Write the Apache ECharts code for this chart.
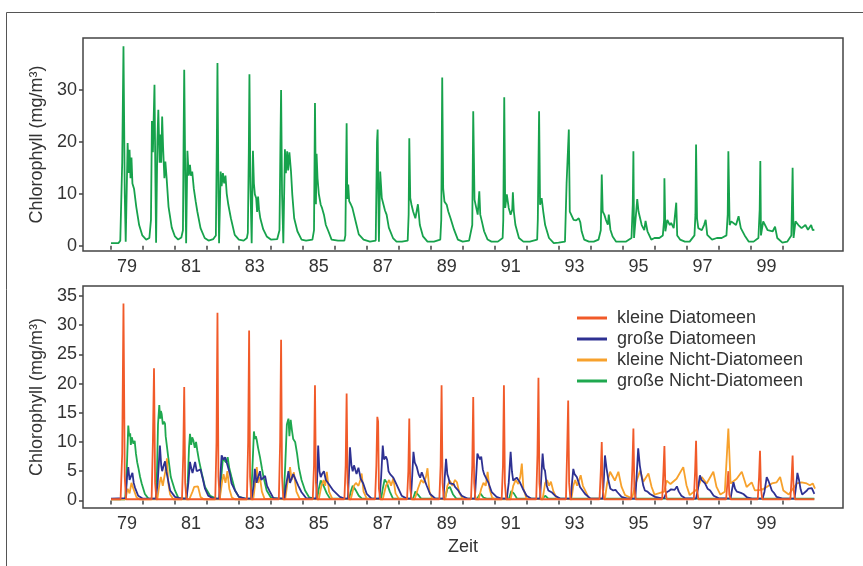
<!DOCTYPE html>
<html>
<head>
<meta charset="utf-8">
<script src="https://cdn.jsdelivr.net/npm/echarts@6/dist/echarts.min.js"></script>
<style>
  html, body { margin: 0; padding: 0; background: #fff; }
  #chart { width: 863px; height: 566px; }
</style>
</head>
<body>
<div id="chart"></div>
<script>
// year ticks (start of year) and year labels (middle of year, every 2nd)
const yearTicks = [1979, 1980, 1981, 1982, 1983, 1984, 1985, 1986, 1987, 1988, 1989, 1990,
                   1991, 1992, 1993, 1994, 1995, 1996, 1997, 1998, 1999, 2000]
const yearLabels = [1979.5, 1981.5, 1983.5, 1985.5, 1987.5, 1989.5, 1991.5, 1993.5, 1995.5, 1997.5, 1999.5]
const topTicks = [0, 10, 20, 30]
const bottomTicks = [0, 5, 10, 15, 20, 25, 30, 35]

const seriesNames = ['kleine Diatomeen', 'große Diatomeen', 'kleine Nicht-Diatomeen', 'große Nicht-Diatomeen']

// total chlorophyll, top panel [year, mg/m3]
const totalChl = [
  [1979.0, 0.5], [1979.23, 0.5], [1979.29, 1.0], [1979.35, 16], [1979.39, 38.4], [1979.43, 10], [1979.46, 0.8],
  [1979.52, 19.8], [1979.55, 14], [1979.58, 18.5], [1979.61, 13], [1979.64, 17], [1979.67, 12], [1979.72, 11],
  [1979.79, 7.5], [1979.88, 4], [1979.98, 2], [1980.1, 1.2], [1980.2, 1.5],
  [1980.25, 5], [1980.28, 24], [1980.31, 18], [1980.36, 31], [1980.39, 12], [1980.41, 0.6], [1980.45, 20],
  [1980.48, 26.2], [1980.52, 16], [1980.55, 21.4], [1980.57, 16], [1980.6, 24.9], [1980.63, 18.8], [1980.67, 13],
  [1980.7, 16.2], [1980.74, 13], [1980.8, 7.5], [1980.9, 3.5], [1981.0, 1.8], [1981.1, 1.2], [1981.2, 1.6],
  [1981.25, 3], [1981.27, 20], [1981.29, 33.9], [1981.32, 15], [1981.35, 0.5], [1981.39, 18.3], [1981.43, 13.5],
  [1981.47, 15.6], [1981.5, 13.5], [1981.54, 14.3], [1981.59, 11], [1981.65, 8.5], [1981.7, 6.6], [1981.8, 3.4],
  [1981.93, 1.5], [1982.05, 1.0], [1982.2, 1.3],
  [1982.28, 2], [1982.31, 20], [1982.33, 35.2], [1982.36, 10], [1982.38, 0.5], [1982.43, 14.3], [1982.46, 11.5],
  [1982.5, 14], [1982.54, 12], [1982.58, 13.5], [1982.62, 10], [1982.67, 7.9], [1982.75, 5.3], [1982.87, 2.1],
  [1983.0, 1.2], [1983.15, 1.0], [1983.25, 1.5],
  [1983.28, 2.5], [1983.31, 18], [1983.33, 33], [1983.36, 12], [1983.4, 0.5], [1983.44, 18.3], [1983.47, 12],
  [1983.5, 9.9], [1983.54, 9.2], [1983.57, 6.5], [1983.6, 9.5], [1983.63, 7], [1983.67, 5.3], [1983.76, 3.2],
  [1983.87, 1.8], [1984.0, 1.2], [1984.2, 1.3],
  [1984.27, 3], [1984.3, 20], [1984.32, 30], [1984.35, 10], [1984.39, 0.5], [1984.44, 18.6], [1984.47, 14],
  [1984.51, 18.2], [1984.54, 14.5], [1984.58, 18], [1984.61, 17.7], [1984.63, 14.3], [1984.67, 9.9], [1984.73, 5.3],
  [1984.83, 2.8], [1984.96, 1.2], [1985.1, 1.0], [1985.3, 1.2],
  [1985.35, 3], [1985.38, 27.5], [1985.41, 8], [1985.43, 17.7], [1985.46, 13], [1985.5, 10], [1985.56, 7.9],
  [1985.6, 7.3], [1985.66, 6], [1985.72, 4], [1985.8, 2.8], [1985.9, 1.2], [1986.1, 1.0], [1986.3, 1.0],
  [1986.33, 2], [1986.37, 23.6], [1986.39, 9], [1986.42, 11.8], [1986.45, 8.6], [1986.5, 8], [1986.55, 7.3],
  [1986.6, 7.6], [1986.66, 4.5], [1986.75, 2.2], [1986.9, 1.2], [1987.1, 0.8], [1987.28, 1],
  [1987.32, 20], [1987.34, 22.4], [1987.36, 10], [1987.38, 0.8], [1987.42, 14.3], [1987.47, 9.2], [1987.52, 9.2],
  [1987.57, 6.8], [1987.62, 6.0], [1987.69, 3.5], [1987.82, 1.5], [1987.93, 0.8], [1988.1, 0.8], [1988.28, 1],
  [1988.31, 6], [1988.33, 20.7], [1988.36, 9.2], [1988.4, 7.9], [1988.45, 6.6], [1988.52, 5.3], [1988.57, 5],
  [1988.6, 8], [1988.66, 4], [1988.76, 1.8], [1988.9, 0.8], [1989.1, 0.8], [1989.3, 1.2],
  [1989.33, 5], [1989.36, 32.4], [1989.39, 11], [1989.43, 8.5], [1989.5, 7.9], [1989.55, 6.6], [1989.62, 5.3],
  [1989.67, 5], [1989.73, 3.1], [1989.85, 1.2], [1990.0, 0.8], [1990.2, 1],
  [1990.3, 4], [1990.33, 25.9], [1990.37, 8.9], [1990.42, 9.2], [1990.47, 6], [1990.52, 10.5], [1990.55, 6],
  [1990.6, 4.7], [1990.67, 2.8], [1990.78, 1.2], [1990.9, 0.8], [1991.1, 0.8], [1991.25, 1.5],
  [1991.27, 5], [1991.3, 28.6], [1991.33, 7.3], [1991.38, 9.9], [1991.44, 7.3], [1991.5, 6], [1991.55, 7],
  [1991.57, 10.3], [1991.6, 6.6], [1991.65, 4], [1991.76, 1.5], [1991.9, 0.8], [1992.1, 0.8], [1992.33, 1.2],
  [1992.35, 5], [1992.39, 25.9], [1992.42, 7.9], [1992.47, 9.2], [1992.52, 6.6], [1992.58, 4], [1992.64, 4],
  [1992.7, 1.5], [1992.85, 0.5], [1993.0, 0.6], [1993.2, 0.8],
  [1993.25, 12], [1993.32, 22.4], [1993.35, 6.6], [1993.4, 6.4], [1993.47, 5], [1993.55, 4.9], [1993.63, 5.3],
  [1993.68, 4.5], [1993.72, 2.8], [1993.8, 1.2], [1993.95, 0.8], [1994.1, 0.8], [1994.25, 1.2],
  [1994.32, 3], [1994.35, 13.7], [1994.38, 6.6], [1994.43, 6], [1994.48, 5], [1994.54, 4.05], [1994.57, 6],
  [1994.62, 3.1], [1994.69, 1.8], [1994.8, 0.8], [1994.95, 0.8], [1995.1, 0.8], [1995.28, 1.5],
  [1995.32, 8], [1995.34, 18.2], [1995.36, 1.5], [1995.46, 9], [1995.5, 6.6], [1995.6, 4], [1995.68, 3],
  [1995.72, 4.8], [1995.78, 2.8], [1995.9, 1.2], [1996.0, 1.5], [1996.15, 1.5], [1996.26, 2],
  [1996.3, 5], [1996.31, 13], [1996.34, 2.8], [1996.4, 5], [1996.48, 4], [1996.52, 4.4], [1996.6, 3.4],
  [1996.68, 8.3], [1996.71, 2], [1996.8, 1.2], [1996.95, 0.8], [1997.1, 0.8], [1997.25, 2],
  [1997.28, 6], [1997.3, 19.5], [1997.33, 5.3], [1997.37, 3.4], [1997.48, 3], [1997.55, 4], [1997.6, 5],
  [1997.65, 2.1], [1997.8, 1.2], [1997.95, 1.5], [1998.1, 1.5], [1998.25, 2],
  [1998.29, 6], [1998.31, 18.2], [1998.35, 4], [1998.4, 4.7], [1998.55, 4], [1998.63, 5.7], [1998.7, 3.4],
  [1998.82, 2], [1998.95, 0.8], [1999.1, 0.8], [1999.25, 1.5],
  [1999.29, 7], [1999.31, 16.3], [1999.33, 2], [1999.4, 4.7], [1999.54, 3], [1999.7, 2.8], [1999.77, 3.7],
  [1999.84, 1.5], [2000.0, 0.6], [2000.15, 0.8], [2000.28, 2],
  [2000.3, 8], [2000.32, 15], [2000.35, 1.5], [2000.41, 4.7], [2000.5, 4], [2000.6, 3.4], [2000.72, 4.0],
  [2000.8, 3.1], [2000.9, 4], [2000.95, 3], [2001.0, 3.1]
]

// bottom panel: kleine Diatomeen
const smallDiatoms = [
  [1979.0, 0.2], [1979.3, 0.2], [1979.35, 8], [1979.39, 33.7], [1979.43, 4], [1979.47, 0.2],
  [1980.27, 0.2], [1980.31, 10], [1980.345, 22.6], [1980.38, 3], [1980.42, 0.2],
  [1981.22, 0.2], [1981.26, 8], [1981.29, 19.4], [1981.32, 3], [1981.36, 0.2],
  [1982.26, 0.2], [1982.3, 10], [1982.33, 32.1], [1982.36, 4], [1982.4, 0.2],
  [1983.25, 0.2], [1983.29, 10], [1983.32, 29.1], [1983.35, 4], [1983.39, 0.2],
  [1984.25, 0.2], [1984.29, 10], [1984.32, 27.5], [1984.35, 4], [1984.39, 0.2],
  [1985.31, 0.2], [1985.35, 6], [1985.38, 19.7], [1985.41, 3], [1985.45, 0.2],
  [1986.3, 0.2], [1986.34, 6], [1986.37, 18.3], [1986.4, 3], [1986.44, 0.2],
  [1987.26, 0.2], [1987.3, 6], [1987.33, 14.3], [1987.355, 13.5], [1987.38, 2], [1987.42, 0.2],
  [1988.26, 0.2], [1988.3, 5], [1988.33, 14], [1988.36, 2], [1988.4, 0.2],
  [1989.27, 0.2], [1989.31, 6], [1989.34, 19.7], [1989.37, 3], [1989.41, 0.2],
  [1990.26, 0.2], [1990.3, 6], [1990.33, 17.7], [1990.36, 3], [1990.4, 0.2],
  [1991.22, 0.2], [1991.26, 6], [1991.29, 19.7], [1991.32, 3], [1991.36, 0.2],
  [1992.3, 0.2], [1992.34, 8], [1992.37, 21], [1992.4, 3], [1992.44, 0.2],
  [1993.23, 0.2], [1993.27, 9], [1993.3, 17.1], [1993.33, 3], [1993.37, 0.2],
  [1994.28, 0.2], [1994.32, 5], [1994.35, 10], [1994.38, 2], [1994.42, 0.2],
  [1995.27, 0.2], [1995.31, 6], [1995.34, 12.3], [1995.37, 2], [1995.41, 0.2],
  [1996.24, 0.2], [1996.28, 5], [1996.31, 9.3], [1996.34, 2], [1996.38, 0.2],
  [1997.23, 0.2], [1997.27, 5], [1997.3, 10.2], [1997.33, 2], [1997.37, 0.2],
  [1998.24, 0.2], [1998.28, 3], [1998.31, 5], [1998.34, 1], [1998.38, 0.2],
  [1999.23, 0.2], [1999.27, 4], [1999.3, 8.5], [1999.33, 2], [1999.37, 0.2],
  [2000.25, 0.2], [2000.29, 4], [2000.32, 7.7], [2000.35, 2], [2000.39, 0.2],
  [2001.0, 0.2]
]

// große Diatomeen
const largeDiatoms = [
  [1979.0, 0.3], [1979.46, 0.4], [1979.5, 4], [1979.54, 5.7], [1979.58, 3.5], [1979.62, 3.3], [1979.67, 4.7],
  [1979.71, 3], [1979.75, 2.2], [1979.85, 0.8], [1980.0, 0.3],
  [1980.4, 0.3], [1980.46, 3], [1980.53, 9.4], [1980.57, 6], [1980.6, 5], [1980.65, 6], [1980.69, 6.7],
  [1980.73, 5], [1980.77, 3.9], [1980.85, 1.7], [1981.0, 0.6], [1981.2, 0.3],
  [1981.36, 0.3], [1981.42, 3], [1981.47, 6.6], [1981.51, 5.5], [1981.55, 4.7], [1981.63, 6.6], [1981.68, 5],
  [1981.73, 5], [1981.8, 5.3], [1981.88, 3.5], [1981.94, 2], [1982.04, 0.8], [1982.2, 0.3],
  [1982.38, 0.3], [1982.42, 4], [1982.46, 7.7], [1982.52, 7], [1982.57, 7.4], [1982.62, 6.5], [1982.67, 6.2],
  [1982.72, 4.5], [1982.77, 2.9], [1982.88, 1.7], [1983.0, 0.6], [1983.2, 0.3],
  [1983.4, 0.3], [1983.46, 2.5], [1983.5, 5.4], [1983.55, 3], [1983.58, 3.6], [1983.66, 5], [1983.7, 3.5],
  [1983.74, 3.5], [1983.82, 4.2], [1983.88, 2.5], [1983.95, 1.7], [1984.08, 0.4],
  [1984.42, 0.3], [1984.47, 2.5], [1984.52, 4], [1984.55, 5], [1984.6, 3], [1984.65, 2.8], [1984.7, 4.5],
  [1984.76, 4.5], [1984.86, 2.5], [1984.96, 1.4], [1985.1, 0.4],
  [1985.42, 0.3], [1985.45, 4], [1985.48, 9.4], [1985.52, 5], [1985.56, 4], [1985.6, 4.5], [1985.66, 5],
  [1985.72, 3.5], [1985.8, 2.9], [1985.95, 1.7], [1986.16, 0.6], [1986.3, 0.3],
  [1986.41, 0.3], [1986.44, 4], [1986.475, 9.1], [1986.52, 6], [1986.56, 5], [1986.6, 6], [1986.63, 6],
  [1986.68, 4.5], [1986.74, 5.6], [1986.81, 3.7], [1986.89, 2.9], [1987.0, 1.1], [1987.15, 0.3],
  [1987.4, 0.3], [1987.45, 4], [1987.5, 9.4], [1987.54, 7], [1987.57, 6.9], [1987.6, 7.5], [1987.64, 6.9],
  [1987.68, 5], [1987.73, 4.5], [1987.78, 4.8], [1987.83, 3.9], [1987.94, 2.6], [1988.09, 0.8], [1988.25, 0.3],
  [1988.38, 0.3], [1988.42, 4], [1988.46, 8.3], [1988.5, 6.5], [1988.56, 5.8], [1988.62, 4.5], [1988.67, 3.9],
  [1988.72, 4.8], [1988.77, 4.6], [1988.87, 2.6], [1988.98, 1.1], [1989.15, 0.3],
  [1989.4, 0.3], [1989.44, 4], [1989.48, 7.1], [1989.52, 4.5], [1989.55, 4], [1989.6, 2.9], [1989.66, 2.9],
  [1989.72, 2.8], [1989.76, 2.3], [1989.86, 1.7], [1989.97, 0.8], [1990.15, 0.3],
  [1990.38, 0.3], [1990.42, 4], [1990.46, 8], [1990.5, 7.5], [1990.54, 7], [1990.58, 7.5], [1990.63, 5.3],
  [1990.67, 4.5], [1990.71, 4.3], [1990.8, 3.1], [1990.91, 1.4], [1991.06, 0.6], [1991.2, 0.3],
  [1991.38, 0.3], [1991.44, 3], [1991.5, 8.3], [1991.54, 5], [1991.58, 3.4], [1991.64, 3.7], [1991.69, 3.9],
  [1991.74, 3.5], [1991.79, 3.1], [1991.88, 2], [1992.0, 0.8], [1992.15, 0.3],
  [1992.42, 0.3], [1992.46, 4], [1992.5, 8], [1992.54, 5.5], [1992.575, 5.1], [1992.63, 2.5], [1992.68, 1.7],
  [1992.72, 1.9], [1992.78, 1.4], [1992.89, 0.8], [1993.05, 0.3],
  [1993.38, 0.3], [1993.42, 3], [1993.46, 5.4], [1993.5, 4.5], [1993.57, 4], [1993.62, 3.2], [1993.67, 2.3],
  [1993.75, 1.7], [1993.83, 1.1], [1994.0, 0.3],
  [1994.38, 0.3], [1994.42, 4], [1994.45, 7.7], [1994.5, 5.5], [1994.56, 3.4], [1994.62, 2], [1994.68, 2.3],
  [1994.71, 1.7], [1994.78, 1.8], [1994.84, 1.4], [1994.97, 0.6], [1995.15, 0.3],
  [1995.4, 0.3], [1995.44, 4], [1995.49, 8.9], [1995.54, 6], [1995.6, 4], [1995.65, 2.5], [1995.7, 1.7],
  [1995.78, 1.5], [1995.86, 1.1], [1996.02, 0.6], [1996.2, 0.4],
  [1996.3, 0.4], [1996.38, 1.4], [1996.45, 1.6], [1996.52, 1.9], [1996.58, 2.2], [1996.63, 1.8], [1996.7, 2.4],
  [1996.76, 1.5], [1996.84, 0.8], [1996.95, 0.4],
  [1997.3, 0.3], [1997.36, 2], [1997.42, 4.3], [1997.47, 3.5], [1997.52, 3.2], [1997.58, 2.9], [1997.66, 2],
  [1997.74, 1.7], [1997.85, 0.8], [1998.0, 0.4],
  [1998.38, 0.3], [1998.43, 2], [1998.47, 3.1], [1998.52, 2], [1998.58, 1.5], [1998.62, 1.7], [1998.7, 1.3],
  [1998.78, 1.1], [1998.9, 0.5], [1999.05, 0.3],
  [1999.38, 0.3], [1999.44, 1.5], [1999.51, 4], [1999.56, 3.4], [1999.62, 2.5], [1999.67, 1.7], [1999.75, 1.2],
  [1999.82, 0.6], [2000.0, 0.3],
  [2000.38, 0.3], [2000.43, 2.5], [2000.47, 4.7], [2000.52, 3.5], [2000.57, 1.9], [2000.62, 1], [2000.68, 1.1],
  [2000.75, 1.6], [2000.81, 2], [2000.87, 1.7], [2000.92, 2.1], [2001.0, 1.1]
]

// kleine Nicht-Diatomeen
const smallNonDiatoms = [
  [1979.0, 0.2], [1979.45, 0.2], [1979.52, 2], [1979.58, 1.2], [1979.64, 3], [1979.7, 2], [1979.8, 0.5], [1979.9, 0.2],
  [1980.45, 0.2], [1980.52, 3], [1980.56, 4], [1980.62, 2.5], [1980.7, 5], [1980.75, 7.2], [1980.79, 3], [1980.85, 1], [1980.95, 0.2],
  [1981.45, 0.2], [1981.55, 1.5], [1981.6, 2.3], [1981.66, 2], [1981.72, 2.4], [1981.8, 0.6], [1981.9, 0.2],
  [1982.4, 0.2], [1982.47, 3], [1982.52, 4.5], [1982.58, 3], [1982.64, 5], [1982.7, 2], [1982.78, 0.5], [1982.88, 0.2],
  [1983.45, 0.2], [1983.5, 2.5], [1983.56, 5.7], [1983.6, 3], [1983.66, 4], [1983.72, 1.5], [1983.8, 0.3],
  [1984.45, 0.2], [1984.52, 3], [1984.6, 5.7], [1984.65, 3.5], [1984.72, 4.8], [1984.8, 1.5], [1984.9, 0.3],
  [1985.5, 0.2], [1985.58, 2.5], [1985.65, 3.5], [1985.7, 2.5], [1985.75, 4.9], [1985.82, 1.5], [1985.92, 0.3],
  [1986.5, 0.2], [1986.6, 2.5], [1986.66, 3], [1986.74, 2.5], [1986.8, 3.5], [1986.84, 4.6], [1986.9, 1.5], [1987.0, 0.3],
  [1987.5, 0.2], [1987.6, 2.5], [1987.7, 3.5], [1987.76, 2.5], [1987.83, 3.8], [1987.9, 1.2], [1988.0, 0.3],
  [1988.5, 0.2], [1988.6, 2], [1988.7, 3.5], [1988.78, 3], [1988.85, 4], [1988.9, 5.5], [1988.96, 1.5], [1989.05, 0.3],
  [1989.45, 0.2], [1989.52, 2.5], [1989.6, 3.4], [1989.68, 2.5], [1989.76, 3.5], [1989.82, 3.1], [1989.9, 1.2], [1990.0, 0.3],
  [1990.5, 0.2], [1990.58, 2], [1990.65, 3], [1990.72, 2.5], [1990.78, 4.9], [1990.84, 2], [1990.92, 0.5], [1991.0, 0.2],
  [1991.5, 0.2], [1991.58, 2.5], [1991.66, 3.5], [1991.74, 2.8], [1991.8, 4], [1991.85, 6.3], [1991.9, 2], [1992.0, 0.3],
  [1992.5, 0.2], [1992.58, 3], [1992.64, 3.5], [1992.7, 2.5], [1992.76, 3.2], [1992.84, 1.5], [1992.95, 0.3],
  [1993.4, 0.2], [1993.46, 2.5], [1993.52, 3.5], [1993.58, 2.5], [1993.64, 3.4], [1993.69, 4.3], [1993.76, 2.5], [1993.83, 1.7], [1993.95, 0.3],
  [1994.45, 0.3], [1994.52, 3], [1994.61, 4.9], [1994.76, 3.4], [1994.87, 4.9], [1994.97, 2.3], [1995.08, 0.9], [1995.3, 0.3],
  [1995.39, 2.5], [1995.55, 5.1], [1995.65, 3.2], [1995.81, 4.6], [1995.91, 2.3], [1996.0, 1.0],
  [1996.3, 1.5], [1996.38, 3.4], [1996.5, 2.8], [1996.69, 3.7], [1996.9, 5.7], [1997.0, 2.6], [1997.1, 0.9],
  [1997.35, 2.0], [1997.48, 4], [1997.63, 2.9], [1997.84, 4.9], [1997.94, 2.3], [1998.06, 1.0],
  [1998.2, 1.5], [1998.26, 7.4], [1998.31, 12.3], [1998.38, 2.9], [1998.57, 3.7], [1998.73, 4.9], [1998.88, 2.3],
  [1999.04, 3.1], [1999.14, 1.7], [1999.35, 1.8], [1999.51, 2.3], [1999.67, 2.9], [1999.82, 3.1], [1999.93, 4.0],
  [2000.03, 1.7], [2000.2, 1.0], [2000.45, 2.9], [2000.6, 3.1], [2000.76, 2.9], [2000.86, 2.6], [2000.95, 2.9], [2001.02, 2.0]
]

// große Nicht-Diatomeen
const largeNonDiatoms = [
  [1979.0, 0.2], [1979.44, 0.2], [1979.48, 3], [1979.51, 8], [1979.54, 12.8], [1979.57, 11], [1979.6, 11.5],
  [1979.62, 9.5], [1979.65, 10.8], [1979.7, 9.7], [1979.74, 10.2], [1979.78, 8], [1979.82, 6.5], [1979.855, 5.6],
  [1979.91, 4], [1979.96, 2.9], [1980.06, 1.1], [1980.17, 0.3],
  [1980.4, 0.3], [1980.44, 5], [1980.47, 13], [1980.51, 16.3], [1980.54, 14], [1980.56, 15.3], [1980.585, 14.8],
  [1980.62, 13], [1980.66, 13.5], [1980.69, 13.1], [1980.71, 11], [1980.74, 10.8], [1980.79, 7.4], [1980.87, 4],
  [1981.0, 1.7], [1981.11, 0.4],
  [1981.36, 0.3], [1981.4, 3], [1981.44, 9], [1981.47, 11.4], [1981.51, 9.5], [1981.54, 10.8], [1981.575, 10.3],
  [1981.62, 9], [1981.66, 10], [1981.7, 8.5], [1981.75, 6.9], [1981.84, 4.6], [1981.94, 2.3], [1982.1, 0.8], [1982.3, 0.3],
  [1982.4, 0.3], [1982.45, 4], [1982.5, 7.2], [1982.55, 7.5], [1982.6, 6.5], [1982.65, 7.4], [1982.7, 5.5],
  [1982.77, 4], [1982.88, 1.7], [1983.0, 0.6], [1983.2, 0.3],
  [1983.38, 0.3], [1983.42, 5], [1983.47, 11.8], [1983.5, 10.5], [1983.53, 11], [1983.56, 10.3], [1983.6, 9],
  [1983.66, 7.4], [1983.72, 5.5], [1983.77, 4], [1983.87, 1.7], [1984.0, 0.5], [1984.2, 0.3],
  [1984.4, 0.3], [1984.45, 6], [1984.5, 13], [1984.55, 14], [1984.58, 11], [1984.62, 13.8], [1984.66, 12],
  [1984.7, 10.5], [1984.76, 10], [1984.82, 8], [1984.88, 5.5], [1984.96, 3.5], [1985.07, 1.7], [1985.2, 0.5], [1985.35, 0.3],
  [1985.45, 0.3], [1985.5, 2], [1985.56, 3.4], [1985.65, 2.5], [1985.75, 1.2], [1985.85, 0.3],
  [1986.45, 0.3], [1986.5, 1.5], [1986.56, 2.5], [1986.65, 1.8], [1986.75, 0.8], [1986.85, 0.3],
  [1987.45, 0.3], [1987.5, 2], [1987.56, 3.6], [1987.63, 3], [1987.72, 1.5], [1987.82, 0.3],
  [1988.45, 0.3], [1988.52, 1.5], [1988.6, 1], [1988.7, 0.3],
  [1989.45, 0.3], [1989.52, 2], [1989.6, 2.3], [1989.7, 1], [1989.8, 0.3],
  [1990.45, 0.3], [1990.55, 1.2], [1990.65, 0.5], [1990.75, 0.3],
  [1991.45, 0.3], [1991.52, 1.6], [1991.6, 1.2], [1991.7, 0.3],
  [1992.5, 0.3], [1992.58, 0.8], [1992.68, 0.3],
  [2001.0, 0.3]
]

const textColor = '#333'
const font = 'Liberation Sans, Arial, sans-serif'

function xAxisFor(gridIndex, name) {
  return {
    type: 'value', gridIndex: gridIndex,
    min: 1978.124, max: 2001.896,
    name: name, nameLocation: 'middle', nameGap: 30,
    nameTextStyle: {color: textColor, fontSize: 18, fontFamily: font},
    axisLine: {show: false},
    splitLine: {show: false},
    axisTick: {show: true, length: 4, customValues: yearTicks, lineStyle: {color: '#444', width: 1.5}},
    axisLabel: {
      customValues: yearLabels, margin: 7,
      color: textColor, fontSize: 18, fontFamily: font,
      formatter: v => String(Math.floor(v)).slice(2)
    }
  }
}

function yAxisFor(gridIndex, min, max, ticks) {
  return {
    type: 'value', gridIndex: gridIndex,
    min: min, max: max,
    name: 'Chlorophyll (mg/m³)', nameLocation: 'middle', nameGap: 36, nameRotate: 90,
    nameTextStyle: {color: textColor, fontSize: 18, fontFamily: font},
    axisLine: {show: false},
    splitLine: {show: false},
    axisTick: {show: true, length: 4, customValues: ticks, lineStyle: {color: '#444', width: 1.5}},
    axisLabel: {customValues: ticks, margin: 6, color: textColor, fontSize: 18, fontFamily: font}
  }
}

function lineSeries(name, data, color, xi, yi) {
  return {
    name: name, type: 'line', data: data,
    xAxisIndex: xi, yAxisIndex: yi,
    showSymbol: false, symbol: 'none',
    lineStyle: {color: color, width: 1.8},
    itemStyle: {color: color}
  }
}

const colors = ['#f15a29', '#2e3192', '#f7a12c', '#1fa84f']

const myChart = echarts.init(document.getElementById('chart'), null, {renderer: 'canvas'})
myChart.setOption({
  animation: false,
  backgroundColor: '#fff',
  graphic: [{
    type: 'rect', left: 4, top: 10, silent: true,
    shape: {width: 900, height: 600},
    style: {fill: 'none', stroke: '#555', lineWidth: 1}
  }],
  grid: [
    {left: 83, top: 38, width: 760, height: 213, show: true, borderColor: '#444', borderWidth: 1.5, backgroundColor: 'transparent'},
    {left: 83, top: 286, width: 760, height: 222, show: true, borderColor: '#444', borderWidth: 1.5, backgroundColor: 'transparent'}
  ],
  xAxis: [xAxisFor(0, ''), xAxisFor(1, 'Zeit')],
  yAxis: [yAxisFor(0, -1, 40, topTicks), yAxisFor(1, -1.3, 36.7, bottomTicks)],
  legend: {
    data: seriesNames,
    orient: 'vertical', left: 572, top: 304,
    itemWidth: 30, itemHeight: 3, itemGap: 3, icon: 'rect',
    textStyle: {color: textColor, fontSize: 18, fontFamily: font, lineHeight: 18, padding: [0, 0, 0, 5]}
  },
  series: [
    lineSeries('gesamt', totalChl, '#17a24c', 0, 0),
    lineSeries(seriesNames[3], largeNonDiatoms, colors[3], 1, 1),
    lineSeries(seriesNames[2], smallNonDiatoms, colors[2], 1, 1),
    lineSeries(seriesNames[1], largeDiatoms, colors[1], 1, 1),
    lineSeries(seriesNames[0], smallDiatoms, colors[0], 1, 1)
  ]
})
</script>
</body>
</html>
